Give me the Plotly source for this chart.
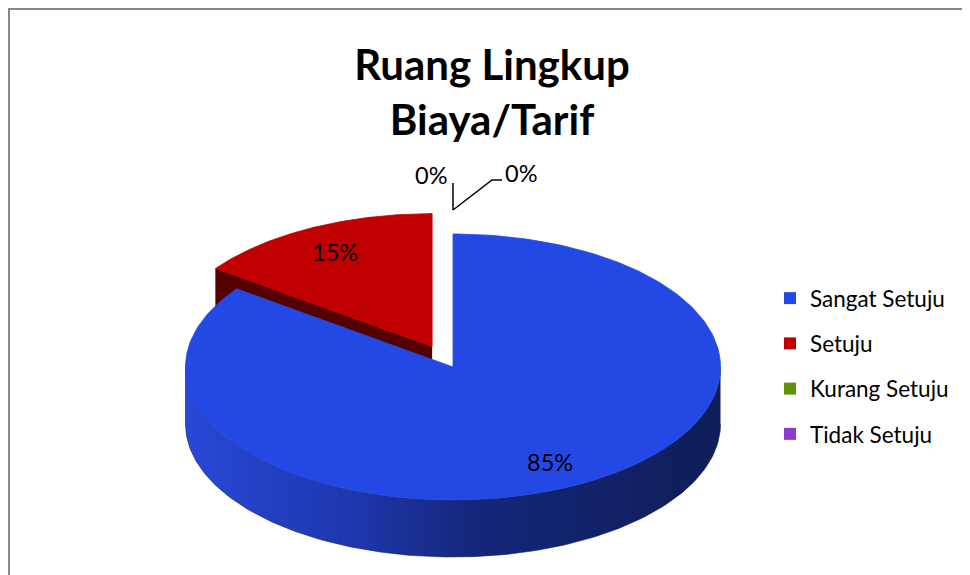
"""
3D-style pie chart: Ruang Lingkup Biaya/Tarif.

Plotly has no 3D pie, so the slices are drawn as filled polygons
computed from the values on a pixel-sized cartesian axis.
"""

import numpy as np
import plotly.graph_objects as go

labels = ["Sangat Setuju", "Setuju", "Kurang Setuju", "Tidak Setuju"]
values = [85, 15, 0, 0]
percent_text = ["85%", "15%", "0%", "0%"]

# styles
top_colors = ["rgb(36,72,228)", "rgb(192,0,0)", "rgb(98,146,10)", "rgb(138,60,210)"]
side_scales = [
    [[0, "rgb(40,72,215)"], [0.3, "rgb(30,56,175)"], [0.55, "rgb(20,38,120)"], [1, "rgb(14,30,88)"]],
    [[0, "rgb(85,0,0)"], [1, "rgb(85,0,0)"]],
    [[0, "rgb(50,80,5)"], [1, "rgb(50,80,5)"]],
    [[0, "rgb(70,30,110)"], [1, "rgb(70,30,110)"]],
]
pull = [0, 0.172, 0, 0]

W, H = 970, 575
PAD = 8                # the page body adds an 8px margin
CX, CY = 453, 367      # centre of top ellipse (page pixels)
RX, RY = 267.5, 133    # ellipse radii
DEPTH = 57             # thickness of the pie
FONT = "Lato"


def rim(theta, dx, dy, down=0.0):
    """Point on the rim, theta measured clockwise from 12 o'clock."""
    return CX + dx + RX * np.sin(theta), CY + dy - RY * np.cos(theta) + down


def poly(fig, xs, ys, color=None, scale=None):
    kw = dict(x=list(xs), y=list(ys), mode="lines", fill="toself",
              hoverinfo="skip", showlegend=False)
    if scale is not None:
        kw["fillgradient"] = dict(type="horizontal", colorscale=scale)
        kw["line"] = dict(width=0.6, color=scale[-1][1])
    else:
        kw["fillcolor"] = color
        kw["line"] = dict(width=0.8, color=color)
    fig.add_trace(go.Scatter(**kw))


fig = go.Figure()

total = sum(values)
bounds = np.concatenate([[0], np.cumsum(values)]) / total * 2 * np.pi
slices = []
for i in range(len(values)):
    t1, t2 = bounds[i], bounds[i + 1]
    mid = (t1 + t2) / 2
    dx = pull[i] * RX * np.sin(mid)
    dy = -pull[i] * RY * np.cos(mid)
    slices.append((i, t1, t2, mid, dx, dy))

# paint the back slices first
order = sorted([s for s in slices if values[s[0]] > 0], key=lambda s: -np.cos(s[3]))
eps = 1e-6
for i, t1, t2, mid, dx, dy in order:
    c0 = (CX + dx, CY + dy)
    # radial cut faces
    for t, visible in ((t1, np.sin(t1) < -eps), (t2, np.sin(t2) > eps)):
        if visible:
            rx, ry = rim(t, dx, dy)
            poly(fig, [c0[0], rx, rx, c0[0]], [c0[1], ry, ry + DEPTH, c0[1] + DEPTH],
                 scale=side_scales[i])
    # outer wall, only the front half is visible
    a, b = max(t1, np.pi / 2), min(t2, 3 * np.pi / 2)
    if b > a:
        th = np.linspace(a, b, 160)
        tx, ty = rim(th, dx, dy)
        bx, by = rim(th[::-1], dx, dy, DEPTH)
        poly(fig, np.concatenate([tx, bx]), np.concatenate([ty, by]), scale=side_scales[i])
    # top face
    th = np.linspace(t1, t2, 240)
    tx, ty = rim(th, dx, dy)
    poly(fig, np.concatenate([[c0[0]], tx, [c0[0]]]), np.concatenate([[c0[1]], ty, [c0[1]]]),
         color=top_colors[i])

# data labels
annotations = []
zero_slots = [(-22, -35, "left"), (68, -37, "right")]
z = 0
for i, t1, t2, mid, dx, dy in slices:
    if values[i] > 0:
        lx = CX + dx + 0.8 * RX * np.sin(mid)
        ly = CY + dy - 0.8 * RY * np.cos(mid)
        annotations.append(dict(x=lx, y=ly, text=percent_text[i], showarrow=False,
                                font=dict(family=FONT, size=23.5, color="black")))
    else:
        ax_, ay_ = rim(mid, 0, 0)
        ay_ -= 24
        ox, oy, side = zero_slots[z]
        z += 1
        if side == "left":
            lx_line, ly_line = [ax_, ax_], [ay_, ay_ - 27]
        else:
            lx_line, ly_line = [ax_, ax_ + 39, ax_ + 49], [ay_, ay_ - 30, ay_ - 30]
        fig.add_trace(go.Scatter(x=lx_line, y=ly_line, mode="lines",
                                 line=dict(color="black", width=1.5),
                                 hoverinfo="skip", showlegend=False))
        annotations.append(dict(x=ax_ + ox, y=ay_ + oy, text=percent_text[i], showarrow=False,
                                font=dict(family=FONT, size=23.5, color="black")))

# legend entries
for i, lab in enumerate(labels):
    fig.add_trace(go.Scatter(x=[None], y=[None], mode="markers", name=lab,
                             legendgroup=lab,
                             marker=dict(symbol="square", size=12, color=top_colors[i])))

FW, FH = W - PAD, H - PAD
fig.update_layout(
    width=FW, height=FH,
    margin=dict(l=0, r=0, t=0, b=0),
    paper_bgcolor="white", plot_bgcolor="white",
    xaxis=dict(range=[PAD, W], visible=False, fixedrange=True),
    yaxis=dict(range=[H, PAD], visible=False, fixedrange=True),
    title=dict(text="Ruang Lingkup<br>Biaya/Tarif", x=(492 - PAD) / FW, xanchor="center",
               y=1 - 72 / FH, yanchor="top",
               font=dict(family=FONT, size=42, weight="bold", color="black")),
    legend=dict(x=(770 - PAD) / FW, xanchor="left", y=1 - (277 - PAD) / FH, yanchor="top",
                font=dict(family=FONT, size=22.5, color="black"),
                tracegroupgap=13, bgcolor="rgba(0,0,0,0)"),
    annotations=annotations,
    shapes=[dict(type="rect", xref="x", yref="y", x0=PAD + 1, y0=PAD + 1, x1=W + 10, y1=H + 10,
                 line=dict(color="rgb(134,134,134)", width=2), layer="above")],
)

fig.write_html("out.html")
